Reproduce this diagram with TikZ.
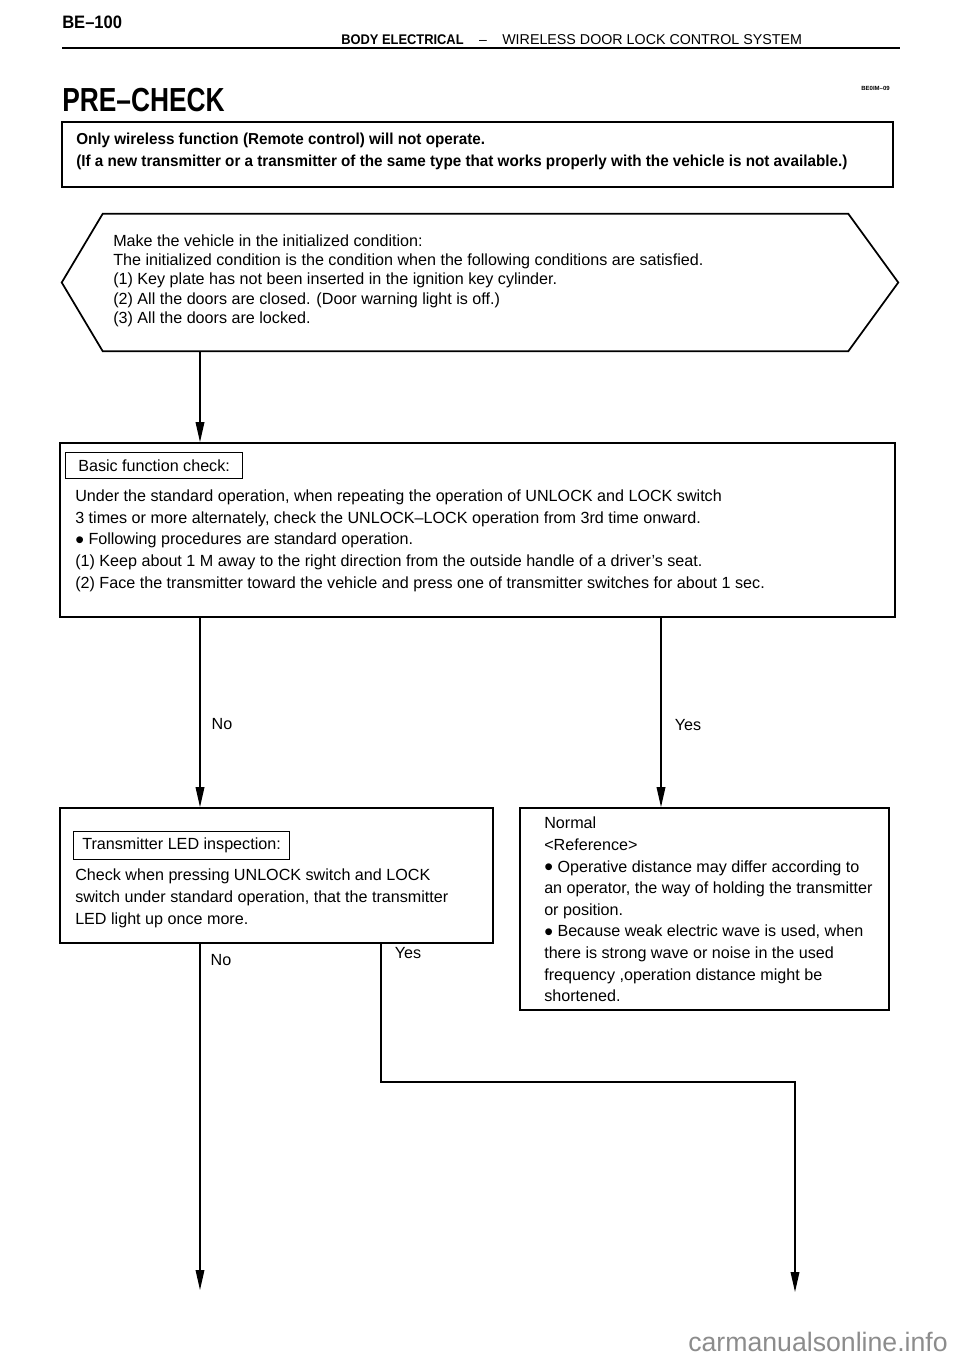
\documentclass[tikz,border=0pt]{standalone}
\usepackage{fontspec}
\usepackage{graphicx}
\setmainfont{Liberation Sans}
\newfontfamily\condfont{Liberation Sans}[FakeStretch=0.79]
\newfontfamily\semicond{Liberation Sans}[FakeStretch=0.92]
\newfontfamily\boldcond{Liberation Sans}[FakeStretch=0.96]
\newcommand{\bul}{\raisebox{-0.2em}{\scalebox{1.55}{•}}}
\usetikzlibrary{arrows.meta,fit,calc}
\begin{document}
\begin{tikzpicture}[x=0.75pt,y=-0.75pt,
  box/.style={draw,line width=1.3pt,inner sep=0pt},
  lblbox/.style={draw,line width=1pt,anchor=north west,inner xsep=6.5pt,inner ysep=0pt,font=\fontsize{12.1}{14}\selectfont},
  txt/.style={anchor=north west,inner sep=0pt,align=left,font=\fontsize{12.1}{16.3}\selectfont},
  lab/.style={inner sep=0pt,font=\fontsize{12.1}{14}\selectfont},
  conn/.style={line width=1pt},
  arr/.style={conn,-{Triangle[length=15pt,width=6.5pt]}},
  ]
\useasboundingbox (0,0) rectangle (960,1358);

% header
\node[anchor=base west,inner sep=0pt,font=\semicond\bfseries\fontsize{13.5}{16}\selectfont] (pg) at (62,29) {BE–100};
\node[anchor=base west,inner sep=0pt,font=\semicond\bfseries\fontsize{10.5}{12}\selectfont] (hd1) at (341,45) {BODY ELECTRICAL};
\node[anchor=base,inner sep=0pt,font=\fontsize{10.5}{12}\selectfont] (hd2) at (483,45) {–};
\node[anchor=base west,inner sep=0pt,font=\fontsize{10.7}{12}\selectfont] (hd3) at (502,45) {WIRELESS DOOR LOCK CONTROL SYSTEM};
\coordinate (hl) at (62,48);
\coordinate (hr) at (900,48);
\draw[line width=2pt] (hl) -- (hr);
\node[anchor=base east,inner sep=0pt,font=\bfseries\fontsize{4.5}{5}\selectfont] (code) at (890,91) {BE0IM–09};
\node[anchor=base west,inner sep=0pt,font=\condfont\bfseries\fontsize{25}{28}\selectfont] (title) at (62,112) {PRE–CHECK};

% box 1
\node[box,fit={(62,122)(893,187)}] (b1) {};
\node[txt,font=\boldcond\bfseries\fontsize{11.9}{16.5}\selectfont] (t1) at (76,133) {Only wireless function (Remote control) will not operate.\\(If a new transmitter or a transmitter of the same type that works properly with the vehicle is not available.)};

% hexagon
\node[inner sep=0pt,fit={(62,214)(898,351)}] (hex) {};
\draw[line width=1.3pt] (hex.west) -- ($(hex.north west)+(41,0)$) -- ($(hex.north east)+(-50,0)$) -- (hex.east) -- ($(hex.south east)+(-50,0)$) -- ($(hex.south west)+(41,0)$) -- cycle;
\node[txt,font=\fontsize{12.1}{14.45}\selectfont] (t2) at (113,234.5) {Make the vehicle in the initialized condition:\\The initialized condition is the condition when the following conditions are satisfied.\\(1) Key plate has not been inserted in the ignition key cylinder.\\(2) All the doors are closed. (Door warning light is off.)\\(3) All the doors are locked.};

% box 2
\node[box,fit={(60,443)(895,617)}] (b2) {};
\node[lblbox,minimum height=19.5pt,inner xsep=9.5pt] (l2) at (65,452) {Basic function check:};
\node[txt] (t3) at (75,489.5) {Under the standard operation, when repeating the operation of UNLOCK and LOCK switch\\3 times or more alternately, check the UNLOCK–LOCK operation from 3rd time onward.\\\bul\ Following procedures are standard operation.\\(1) Keep about 1 M away to the right direction from the outside handle of a driver’s seat.\\(2) Face the transmitter toward the vehicle and press one of transmitter switches for about 1 sec.};

% box 3
\node[box,fit={(60,808)(493,943)}] (b3) {};
\node[lblbox,minimum height=21pt] (l3) at (73,831) {Transmitter LED inspection:};
\node[txt] (t4) at (75,869) {Check when pressing UNLOCK switch and LOCK\\switch under standard operation, that the transmitter\\LED light up once more.};

% box 4
\node[box,fit={(520,808)(889,1010)}] (b4) {};
\node[txt,font=\fontsize{12.1}{16.2}\selectfont] (t5) at (544,817) {Normal\\<Reference>\\\bul\ Operative distance may differ according to\\an operator, the way of holding the transmitter\\or position.\\\bul\ Because weak electric wave is used, when\\there is strong wave or noise in the used\\frequency ,operation distance might be\\shortened.};

% connectors
\coordinate (xa) at (200,0);
\coordinate (xb) at (661,0);
\coordinate (xc) at (381,0);
\coordinate (e1) at (200,1290);
\coordinate (e2) at (795,1292);
\coordinate (tr) at (795,1082);
\draw[arr] (hex.south -| xa) -- (b2.north -| xa);
\draw[arr] (b2.south -| xa) -- (b3.north -| xa);
\draw[arr] (b2.south -| xb) -- (b4.north -| xb);
\draw[arr] (b3.south -| xa) -- (e1);
\draw[arr] (b3.south -| xc) |- (tr) -- (e2);

\node[lab] (no1) at (222,724) {No};
\node[lab] (yes1) at (688,725) {Yes};
\node[lab] (no2) at (221,960) {No};
\node[lab] (yes2) at (408,953) {Yes};

\node[anchor=base east,inner sep=0pt,text=black!45,font=\fontsize{20}{22}\selectfont] (wm) at (948,1351) {carmanualsonline.info};
\end{tikzpicture}
\end{document}
